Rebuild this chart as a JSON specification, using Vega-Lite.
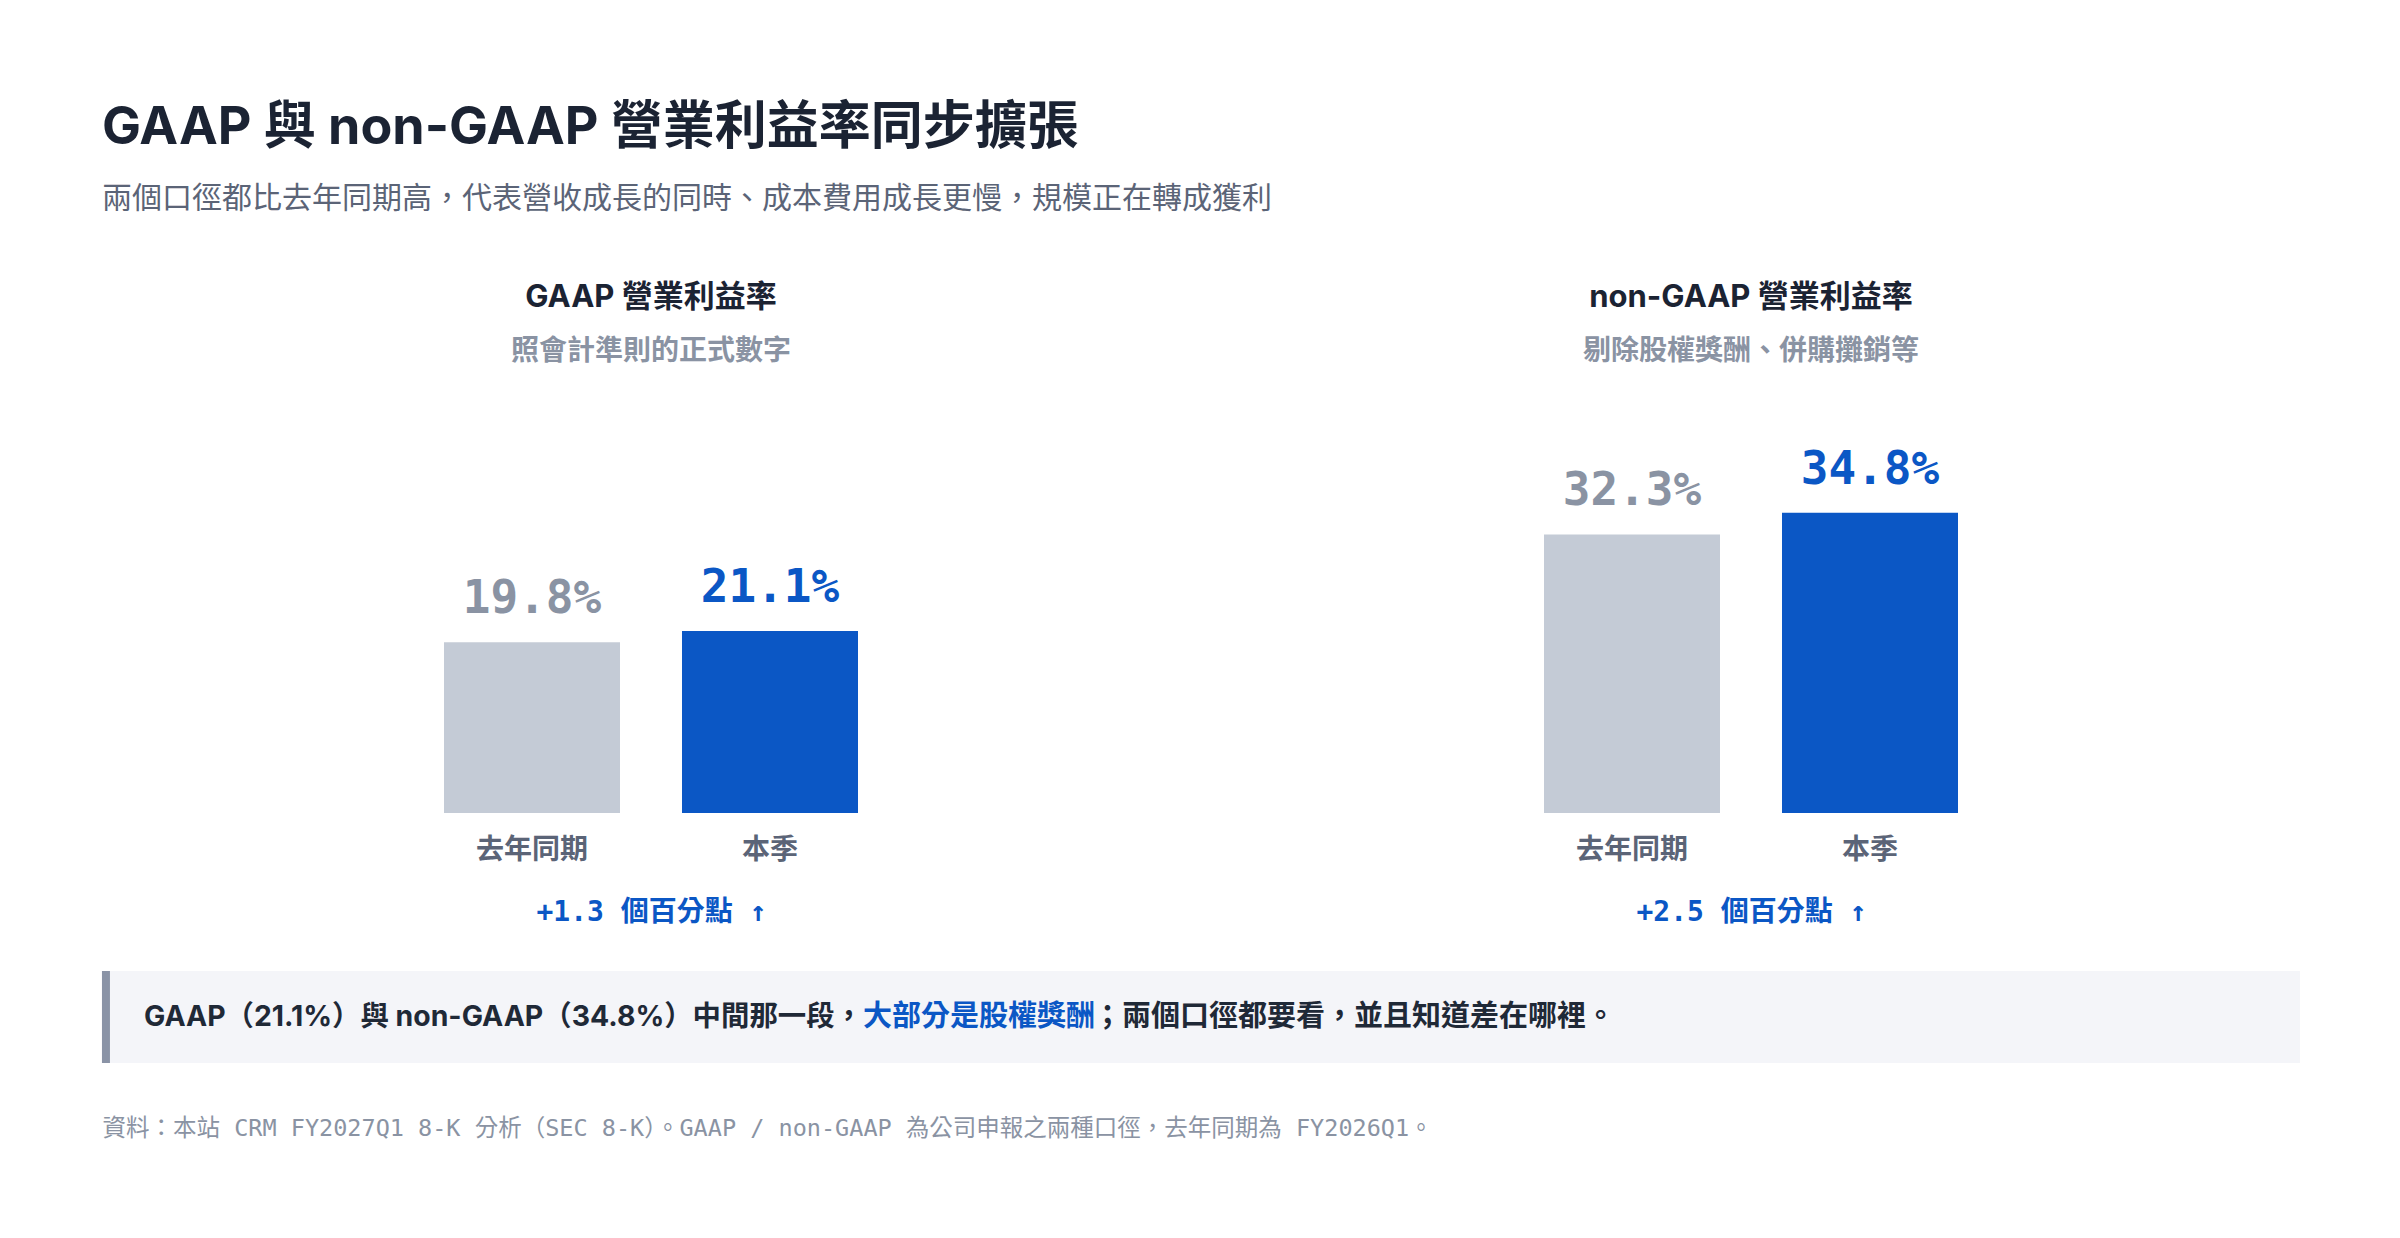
{
  "$schema": "https://vega.github.io/schema/vega-lite/v6.json",
  "background": "#ffffff",
  "padding": {"left": 101, "top": 102, "right": 0, "bottom": 0},
  "title": {
    "text": "GAAP 與 non-GAAP 營業利益率同步擴張",
    "subtitle": "兩個口徑都比去年同期高，代表營收成長的同時、成本費用成長更慢，規模正在轉成獲利",
    "anchor": "start",
    "font": "Inter, 'Noto Sans CJK TC', sans-serif",
    "fontSize": 52,
    "fontWeight": "bold",
    "color": "#1b2333",
    "subtitleFont": "Inter, 'Noto Sans CJK TC', sans-serif",
    "subtitleFontSize": 30,
    "subtitleFontWeight": "normal",
    "subtitleColor": "#5b6477",
    "subtitlePadding": 29,
    "offset": 67
  },
  "datasets": {
    "margins": [
      {"metric": "GAAP", "period": "去年同期", "value": 0.198},
      {"metric": "GAAP", "period": "本季", "value": 0.211},
      {"metric": "non-GAAP", "period": "去年同期", "value": 0.323},
      {"metric": "non-GAAP", "period": "本季", "value": 0.348}
    ]
  },
  "spacing": 41,
  "center": true,
  "vconcat": [
    {
      "spacing": 210,
      "hconcat": [
        {
          "width": 890,
          "height": 414,
          "title": {
            "text": "GAAP 營業利益率",
            "subtitle": "照會計準則的正式數字",
            "anchor": "middle",
            "font": "Inter, 'Noto Sans CJK TC', sans-serif",
            "fontSize": 31,
            "fontWeight": "bold",
            "color": "#1b2333",
            "subtitleFont": "Inter, 'Noto Sans CJK TC', sans-serif",
            "subtitleFontSize": 28,
            "subtitleFontWeight": "bold",
            "subtitleColor": "#8a93a3",
            "subtitlePadding": 24,
            "offset": 32
          },
          "data": {"name": "margins"},
          "transform": [{"filter": "datum.metric === 'GAAP'"}],
          "encoding": {
            "x": {
              "field": "period",
              "type": "nominal",
              "sort": ["去年同期", "本季"],
              "scale": {"paddingInner": 0.2605, "paddingOuter": 1},
              "axis": {
                "title": "+1.3 個百分點 ↑",
                "labelAngle": 0,
                "domain": false,
                "ticks": false,
                "tickSize": 0,
                "grid": false,
                "labelPadding": 23,
                "labelFont": "Inter, 'Noto Sans CJK TC', sans-serif",
                "labelFontSize": 28,
                "labelFontWeight": "bold",
                "labelColor": "#5b6477",
                "titleFont": "'DejaVu Sans Mono', 'Noto Sans CJK TC', monospace",
                "titleFontSize": 28,
                "titleFontWeight": "bold",
                "titleColor": "#0b57c5",
                "titlePadding": 34
              }
            },
            "y": {"field": "value", "type": "quantitative", "scale": {"domain": [0, 0.48]}, "axis": null}
          },
          "layer": [
            {
              "mark": {"type": "bar"},
              "encoding": {
                "color": {"condition": {"test": "datum.period === '本季'", "value": "#0b57c5"}, "value": "#c4cbd6"}
              }
            },
            {
              "mark": {"type": "text", "baseline": "alphabetic", "dy": -29, "font": "'DejaVu Sans Mono', monospace", "fontSize": 46, "fontWeight": "bold"},
              "encoding": {
                "text": {"field": "value", "type": "quantitative", "format": ".1%"},
                "color": {"condition": {"test": "datum.period === '本季'", "value": "#0b57c5"}, "value": "#8a93a3"}
              }
            }
          ]
        },
        {
          "width": 890,
          "height": 414,
          "title": {
            "text": "non-GAAP 營業利益率",
            "subtitle": "剔除股權獎酬、併購攤銷等",
            "anchor": "middle",
            "font": "Inter, 'Noto Sans CJK TC', sans-serif",
            "fontSize": 31,
            "fontWeight": "bold",
            "color": "#1b2333",
            "subtitleFont": "Inter, 'Noto Sans CJK TC', sans-serif",
            "subtitleFontSize": 28,
            "subtitleFontWeight": "bold",
            "subtitleColor": "#8a93a3",
            "subtitlePadding": 24,
            "offset": 32
          },
          "data": {"name": "margins"},
          "transform": [{"filter": "datum.metric === 'non-GAAP'"}],
          "encoding": {
            "x": {
              "field": "period",
              "type": "nominal",
              "sort": ["去年同期", "本季"],
              "scale": {"paddingInner": 0.2605, "paddingOuter": 1},
              "axis": {
                "title": "+2.5 個百分點 ↑",
                "labelAngle": 0,
                "domain": false,
                "ticks": false,
                "tickSize": 0,
                "grid": false,
                "labelPadding": 23,
                "labelFont": "Inter, 'Noto Sans CJK TC', sans-serif",
                "labelFontSize": 28,
                "labelFontWeight": "bold",
                "labelColor": "#5b6477",
                "titleFont": "'DejaVu Sans Mono', 'Noto Sans CJK TC', monospace",
                "titleFontSize": 28,
                "titleFontWeight": "bold",
                "titleColor": "#0b57c5",
                "titlePadding": 34
              }
            },
            "y": {"field": "value", "type": "quantitative", "scale": {"domain": [0, 0.48]}, "axis": null}
          },
          "layer": [
            {
              "mark": {"type": "bar"},
              "encoding": {
                "color": {"condition": {"test": "datum.period === '本季'", "value": "#0b57c5"}, "value": "#c4cbd6"}
              }
            },
            {
              "mark": {"type": "text", "baseline": "alphabetic", "dy": -29, "font": "'DejaVu Sans Mono', monospace", "fontSize": 46, "fontWeight": "bold"},
              "encoding": {
                "text": {"field": "value", "type": "quantitative", "format": ".1%"},
                "color": {"condition": {"test": "datum.period === '本季'", "value": "#0b57c5"}, "value": "#8a93a3"}
              }
            }
          ]
        }
      ]
    },
    {
      "width": 2198,
      "height": 92,
      "view": {"fill": "#f4f5f9", "stroke": null},
      "data": {"values": [
        {"a": "GAAP（21.1%）與 non-GAAP（34.8%）中間那一段，", "b": "大部分是股權獎酬", "c": "；兩個口徑都要看，並且知道差在哪裡。"}
      ]},
      "layer": [
        {
          "mark": {"type": "rule", "color": "#8a93a6", "strokeWidth": 8},
          "encoding": {
            "x": {
              "datum": 0.18,
              "type": "quantitative",
              "scale": {"domain": [0, 100], "nice": false, "zero": false},
              "axis": {
                "title": "資料：本站 CRM FY2027Q1 8-K 分析（SEC 8-K）。GAAP / non-GAAP 為公司申報之兩種口徑，去年同期為 FY2026Q1。",
                "titleAnchor": "start",
                "titleFont": "'DejaVu Sans Mono', 'Noto Sans CJK TC', monospace",
                "titleFontSize": 23.5,
                "titleFontWeight": "normal",
                "titleColor": "#8a93a3",
                "titlePadding": 53,
                "titleLimit": 2198,
                "labels": false,
                "ticks": false,
                "domain": false,
                "grid": false
              }
            }
          }
        },
        {
          "mark": {"type": "text", "align": "right", "baseline": "middle", "font": "Inter, 'Noto Sans CJK TC', sans-serif", "fontSize": 28.4, "fontWeight": "bold", "color": "#1f2937"},
          "encoding": {"x": {"datum": 34.62, "type": "quantitative"}, "text": {"field": "a"}}
        },
        {
          "mark": {"type": "text", "align": "left", "baseline": "middle", "font": "Inter, 'Noto Sans CJK TC', sans-serif", "fontSize": 29, "fontWeight": "bold", "color": "#0b57c5"},
          "encoding": {"x": {"datum": 34.62, "type": "quantitative"}, "text": {"field": "b"}}
        },
        {
          "mark": {"type": "text", "align": "left", "baseline": "middle", "font": "Inter, 'Noto Sans CJK TC', sans-serif", "fontSize": 29, "fontWeight": "bold", "color": "#1f2937"},
          "encoding": {"x": {"datum": 45.09, "type": "quantitative"}, "text": {"field": "c"}}
        }
      ]
    }
  ],
  "config": {
    "view": {"stroke": null},
    "concat": {"spacing": 0}
  }
}
